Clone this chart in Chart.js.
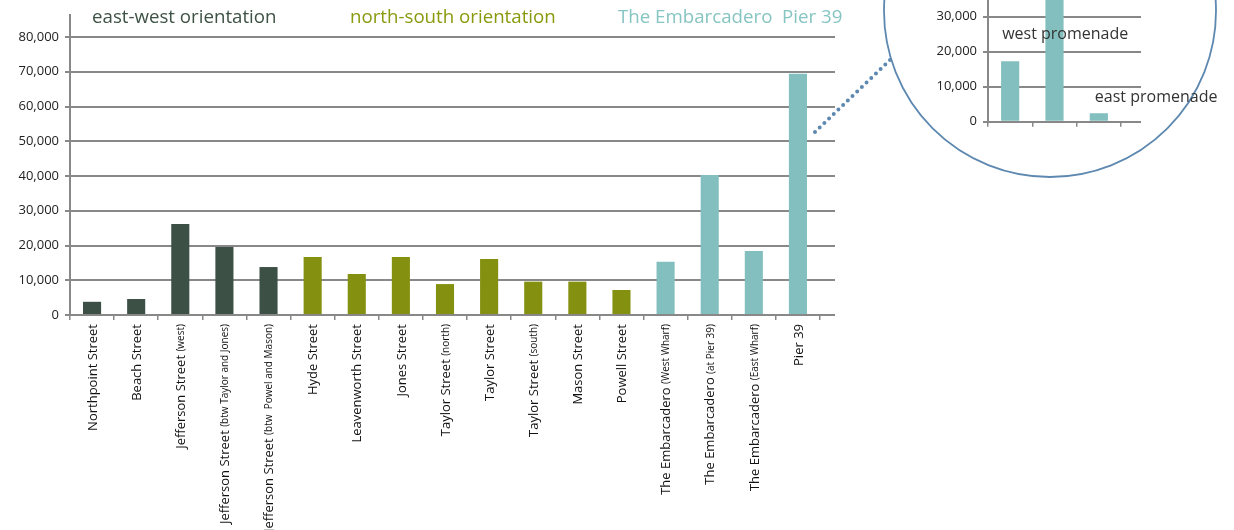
<!DOCTYPE html>
<html>
<head>
<meta charset="utf-8">
<script src="https://cdn.jsdelivr.net/npm/chart.js@4.4.0/dist/chart.umd.min.js"></script>
<style>
  html, body { margin: 0; padding: 0; background: #fff; overflow: hidden; }
  #wrap { position: relative; width: 1234px; height: 530px; overflow: hidden; }
  #main { position: absolute; left: 0; top: 0; }
  #zoom { position: absolute; left: 880px; top: -160px; }
</style>
</head>
<body>
<div id="wrap">
  <canvas id="main" width="1234" height="530"></canvas>
  <canvas id="zoom" width="354" height="330"></canvas>
</div>
<script>
// street counts
const streets = ['Northpoint Street', 'Beach Street', 'Jefferson Street', 'Jefferson Street', 'Jefferson Street',
  'Hyde Street', 'Leavenworth Street', 'Jones Street', 'Taylor Street', 'Taylor Street', 'Taylor Street',
  'Mason Street', 'Powell Street', 'The Embarcadero', 'The Embarcadero', 'The Embarcadero', 'Pier 39'];
const notes = ['', '', '(west)', '(btw Taylor and Jones)', '(btw  Powel and Mason)',
  '', '', '', '(north)', '', '(south)', '', '', '(West Wharf)', '(at Pier 39)', '(East Wharf)', ''];
const counts = [3800, 4600, 26200, 19600, 13800, 16700, 11800, 16700, 8900, 16100, 9600, 9600, 7200,
  15300, 40300, 18400, 69400];
const groups = ['ew', 'ew', 'ew', 'ew', 'ew', 'ns', 'ns', 'ns', 'ns', 'ns', 'ns', 'ns', 'ns',
  'emb', 'emb', 'emb', 'emb'];
const groupColors = { ew: '#3d5045', ns: '#849110', emb: '#82bfbe' };
const yTicks = [0, 10000, 20000, 30000, 40000, 50000, 60000, 70000, 80000];

// zoomed detail (Pier 39)
const zoomCats = ['west promenade', 'Pier 39', 'east promenade'];
const zoomCounts = [17300, 49700, 2400];
const zoomTicks = [0, 10000, 20000, 30000, 40000, 50000, 60000];

const FONT = "'Open Sans', 'Noto Sans', sans-serif";
const GRID = '#888888';

// extend horizontal gridlines a few px past the plot
function extendGrid(chart, values, extra) {
    const ctx = chart.ctx, ys = chart.scales.y, area = chart.chartArea;
    ctx.strokeStyle = GRID;
    ctx.lineWidth = 2;
    values.forEach(v => {
        const y = Math.round(ys.getPixelForValue(v));
        ctx.beginPath();
        ctx.moveTo(area.right - 1, y);
        ctx.lineTo(area.right + extra, y);
        ctx.stroke();
    });
}

const mainExtras = {
    id: 'mainExtras',
    afterDraw(chart) {
        const ctx = chart.ctx;
        const xs = chart.scales.x;
        const area = chart.chartArea;
        ctx.save();

        extendGrid(chart, yTicks, 15);
        // y axis sticks out above the top line
        ctx.beginPath();
        ctx.moveTo(Math.round(area.left), area.top - 23);
        ctx.lineTo(Math.round(area.left), area.top);
        ctx.stroke();

        // group headers
        ctx.font = '18.7px ' + FONT;
        ctx.textBaseline = 'alphabetic';
        ctx.textAlign = 'left';
        ctx.fillStyle = '#3e5245';
        ctx.fillText('east-west orientation', 92, 23);
        ctx.fillStyle = '#8a9a0e';
        ctx.fillText('north-south orientation', 350, 23);
        ctx.fillStyle = '#86c5c2';
        ctx.fillText('The Embarcadero  Pier 39', 618, 23);

        // x labels, rotated, with smaller notes
        ctx.fillStyle = '#111';
        ctx.textBaseline = 'middle';
        streets.forEach((name, i) => {
            const x = xs.getPixelForValue(i) + 1;
            ctx.font = '13px ' + FONT;
            const mainW = ctx.measureText(name).width;
            const spaceW = ctx.measureText(' ').width;
            let noteW = 0;
            if (notes[i]) {
                ctx.font = '10px ' + FONT;
                noteW = ctx.measureText(notes[i]).width + spaceW;
            }
            const total = mainW + noteW;
            ctx.save();
            ctx.translate(x, area.bottom + 9);
            ctx.rotate(-Math.PI / 2);
            ctx.font = '13px ' + FONT;
            ctx.fillText(name, -total, 0);
            if (notes[i]) {
                ctx.font = '10px ' + FONT;
                ctx.fillText(notes[i], -total + mainW + spaceW, 0);
            }
            ctx.restore();
        });

        // magnifier circle and dotted pointer
        ctx.strokeStyle = '#5d88b0';
        ctx.lineWidth = 1.8;
        ctx.beginPath();
        ctx.arc(1050, 11, 166, 0, Math.PI * 2);
        ctx.stroke();

        ctx.lineWidth = 4;
        ctx.lineCap = 'round';
        ctx.setLineDash([0, 6.5]);
        ctx.beginPath();
        ctx.moveTo(815, 132);
        ctx.lineTo(891, 59);
        ctx.stroke();
        ctx.restore();
    }
};

new Chart(document.getElementById('main'), {
    type: 'bar',
    data: {
        labels: streets.map((s, i) => notes[i] ? s + ' ' + notes[i] : s),
        datasets: [{
            data: counts,
            backgroundColor: groups.map(g => groupColors[g]),
            barPercentage: 0.41,
            categoryPercentage: 1
        }]
    },
    options: {
        responsive: false,
        animation: false,
        layout: { padding: { top: 37, right: 414, left: 0, bottom: 0 } },
        plugins: { legend: { display: false }, tooltip: { enabled: false } },
        scales: {
            x: {
                offset: true,
                afterFit: (s) => { s.height = 215; },
                ticks: { display: false },
                grid: { offset: true, drawOnChartArea: false, color: GRID, lineWidth: 1.5, tickLength: 5 },
                border: { color: GRID, width: 2 }
            },
            y: {
                min: 0,
                max: 80000,
                afterFit: (s) => { s.width = 70; },
                ticks: {
                    stepSize: 10000,
                    padding: 6,
                    color: '#222',
                    font: { family: FONT, size: 13 },
                    callback: (v) => v.toLocaleString('en-US')
                },
                grid: { color: GRID, lineWidth: 2, tickLength: 5 },
                border: { color: GRID, width: 2 }
            }
        }
    },
    plugins: [mainExtras]
});

const zoomExtras = {
    id: 'zoomExtras',
    afterDraw(chart) {
        const ctx = chart.ctx;
        const xs = chart.scales.x, ys = chart.scales.y;
        ctx.save();
        extendGrid(chart, zoomTicks, 20);
        ctx.fillStyle = '#333';
        ctx.font = '16px ' + FONT;
        ctx.textAlign = 'left';
        ctx.textBaseline = 'middle';
        ctx.fillText(zoomCats[0], xs.getPixelForValue(0) - 8, ys.getPixelForValue(25000));
        ctx.fillText(zoomCats[2], xs.getPixelForValue(2) - 4, ys.getPixelForValue(6800));
        ctx.restore();
    }
};

new Chart(document.getElementById('zoom'), {
    type: 'bar',
    data: {
        labels: zoomCats,
        datasets: [{
            data: zoomCounts,
            backgroundColor: groupColors.emb,
            barPercentage: 0.41,
            categoryPercentage: 1
        }]
    },
    options: {
        responsive: false,
        animation: false,
        layout: { padding: { top: 71.7, right: 113, left: 0, bottom: 0 } },
        plugins: { legend: { display: false }, tooltip: { enabled: false } },
        scales: {
            x: {
                offset: true,
                afterFit: (s) => { s.height = 48.3; },
                ticks: { display: false },
                grid: { offset: true, drawOnChartArea: false, color: GRID, lineWidth: 1.5, tickLength: 5 },
                border: { color: GRID, width: 2 }
            },
            y: {
                min: 0,
                max: 60000,
                afterFit: (s) => { s.width = 108; },
                ticks: {
                    stepSize: 10000,
                    padding: 6,
                    color: '#222',
                    font: { family: FONT, size: 13 },
                    callback: (v) => v.toLocaleString('en-US')
                },
                grid: { color: GRID, lineWidth: 2, tickLength: 5 },
                border: { color: GRID, width: 2 }
            }
        }
    },
    plugins: [zoomExtras]
});
</script>
</body>
</html>
